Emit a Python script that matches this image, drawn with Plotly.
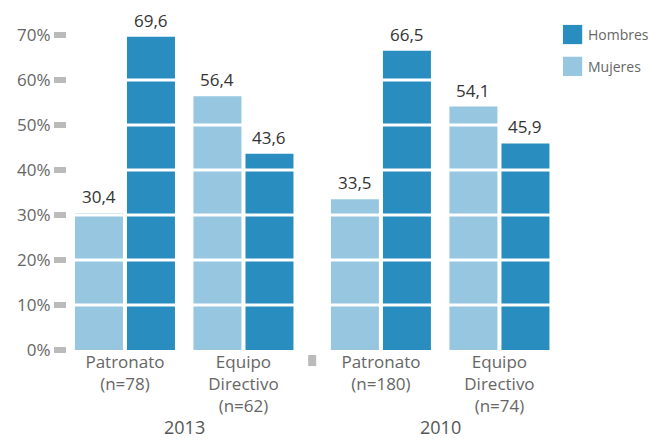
import plotly.graph_objects as go

# data
years = ["2013", "2013", "2010", "2010"]
groups = ["Patronato<br>(n=78)", "Equipo<br>Directivo<br>(n=62)",
          "Patronato<br>(n=180)", "Equipo<br>Directivo<br>(n=74)"]
mujeres = [30.4, 56.4, 33.5, 54.1]
hombres = [69.6, 43.6, 66.5, 45.9]
y_ticks = [0, 10, 20, 30, 40, 50, 60, 70]

C_HOM = "#298DC0"
C_MUJ = "#96C6E0"
GRAY = "#666666"
FONT = "Open Sans, sans-serif"

# group positions: one unit per group, extra gap between years
pos = []
shift = 0.0
for i, yr in enumerate(years):
    if i > 0 and yr != years[i - 1]:
        shift += 0.16
    pos.append(i + shift)

BW = 0.405
series = [("Mujeres", mujeres, C_MUJ, -0.422), ("Hombres", hombres, C_HOM, 0.017)]

fig = go.Figure()
for name, vals, col, off in series:
    fig.add_trace(go.Bar(
        x=pos, y=vals, name=name, width=BW, offset=off,
        marker=dict(color=col, line=dict(width=0)),
        hovertemplate=name + ": %{y}<extra></extra>",
    ))
    # value labels as annotations so they sit above the white grid lines
    for p, v in zip(pos, vals):
        fig.add_annotation(x=p + off + BW / 2, y=v, xref="x", yref="y",
                           text=f"{v:.1f}".replace(".", ","), showarrow=False,
                           yanchor="bottom", yshift=3,
                           font=dict(size=17, color="#333333", family=FONT))

# white gridlines over the bars
for t in y_ticks[1:-1]:
    fig.add_hline(y=t, line=dict(color="white", width=3), layer="above")

# divider between years
for i in range(1, len(years)):
    if years[i] != years[i - 1]:
        mid = (pos[i] + pos[i - 1]) / 2
        fig.add_shape(type="rect", xref="x", yref="paper",
                      x0=mid - 0.034, x1=mid + 0.034, y0=-0.051, y1=-0.016,
                      fillcolor="#BBBBBB", line=dict(width=0))

# year labels
for yr in dict.fromkeys(years):
    xs = [p for p, y in zip(pos, years) if y == yr]
    fig.add_annotation(x=sum(xs) / len(xs), y=-0.243, xref="x", yref="paper",
                       text=yr, showarrow=False, yanchor="middle",
                       font=dict(size=18, color="#555555", family=FONT))

# legend (drawn manually)
for name, col, y0 in [("Hombres", C_HOM, 0.971), ("Mujeres", C_MUJ, 0.870)]:
    fig.add_shape(type="rect", xref="paper", yref="paper",
                  x0=1.006, x1=1.045, y0=y0, y1=y0 + 0.061,
                  fillcolor=col, line=dict(width=0))
    fig.add_annotation(x=1.053, y=y0 + 0.031, xref="paper", yref="paper",
                       text=name, showarrow=False, xanchor="left", yanchor="middle",
                       font=dict(size=14, color=GRAY, family=FONT))

fig.update_layout(
    width=650, height=441,
    margin=dict(l=67, r=90, t=35, b=91),
    plot_bgcolor="white", paper_bgcolor="white",
    showlegend=False,
    xaxis=dict(
        range=[-0.489, 3.671], tickvals=pos, ticktext=groups,
        showgrid=False, zeroline=False, showline=False, ticks="",
        tickfont=dict(size=17, color=GRAY, family=FONT),
    ),
    yaxis=dict(
        range=[0, 70], tickvals=y_ticks, ticktext=[f"{t}%" for t in y_ticks],
        showgrid=False, zeroline=False, showline=False,
        ticks="outside", ticklen=12, tickwidth=6, tickcolor="#BBBBBB",
        tickfont=dict(size=17, color=GRAY, family=FONT),
    ),
)

fig.write_html("out.html", config={"displayModeBar": False},
               post_script="document.body.style.margin='0';")
